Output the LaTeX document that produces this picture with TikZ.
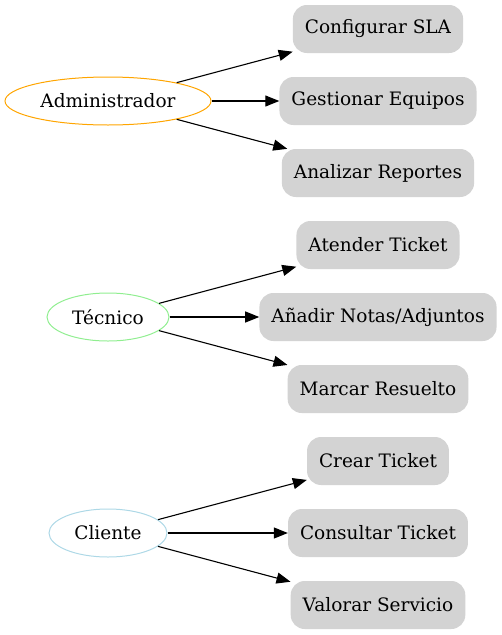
\documentclass[tikz,border=0pt]{standalone}
\usepackage{fontspec}
\setmainfont{DejaVu Serif}
\usetikzlibrary{arrows.meta,shapes.geometric}
\begin{document}
\begin{tikzpicture}[
        x=1pt, y=-1pt,
        actor/.style={ellipse, draw, line width=1pt, minimum height=48pt, inner sep=0pt, font=\fontsize{18.5}{21}\selectfont},
        task/.style={rectangle, rounded corners=14pt, fill=boxgray, minimum height=48pt, inner xsep=12pt, font=\fontsize{18.5}{21}\selectfont},
        edge/.style={draw=black, line width=1.1pt, -{Triangle[length=14pt, width=11pt]}}
    ]

        \definecolor{boxgray}{RGB}{211, 211, 211}
        \definecolor{myorange}{RGB}{255, 165, 0}
        \definecolor{mygreen}{RGB}{144, 238, 144}
        \definecolor{myblue}{RGB}{173, 216, 230}

        \useasboundingbox (0, 0) rectangle (502, 635);

        \node[actor, draw=myorange, minimum width=206pt] (admin) at (108, 101) {Administrador};
        \node[actor, draw=mygreen, minimum width=122pt] (tec) at (108, 317) {Técnico};
        \node[actor, draw=myblue, minimum width=118pt] (cli) at (108, 533) {Cliente};

        \node[task] (t1) at (378, 29) {Configurar SLA};
        \node[task] (t2) at (378, 101) {Gestionar Equipos};
        \node[task] (t3) at (378, 173) {Analizar Reportes};

        \node[task] (t4) at (378, 245) {Atender Ticket};
        \node[task] (t5) at (378, 317) {Añadir Notas/Adjuntos};
        \node[task] (t6) at (378, 389) {Marcar Resuelto};

        \node[task] (t7) at (378, 461) {Crear Ticket};
        \node[task] (t8) at (378, 533) {Consultar Ticket};
        \node[task] (t9) at (378, 605) {Valorar Servicio};

        \draw[edge] (admin) -- (t1);
        \draw[edge] (admin) -- (t2);
        \draw[edge] (admin) -- (t3);

        \draw[edge] (tec) -- (t4);
        \draw[edge] (tec) -- (t5);
        \draw[edge] (tec) -- (t6);

        \draw[edge] (cli) -- (t7);
        \draw[edge] (cli) -- (t8);
        \draw[edge] (cli) -- (t9);
    \end{tikzpicture}
\end{document}
